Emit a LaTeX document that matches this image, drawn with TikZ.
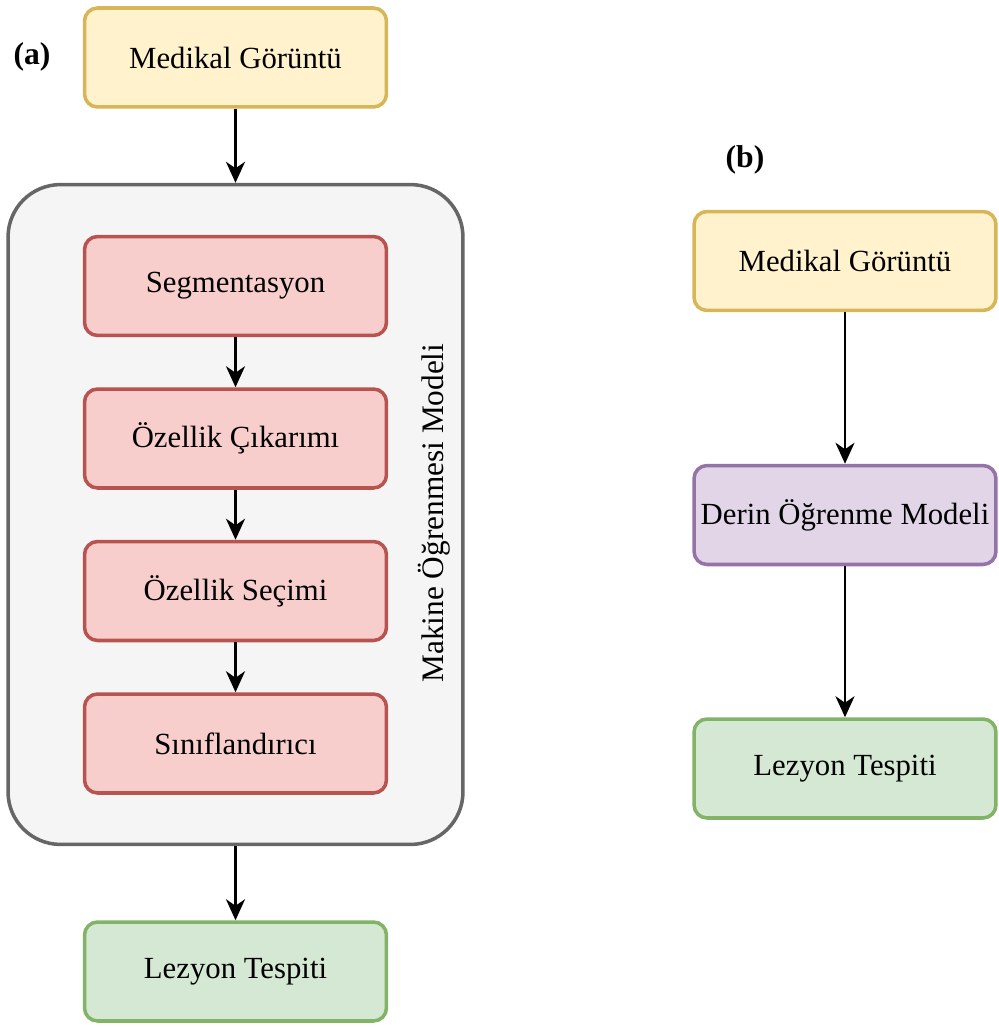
\documentclass[tikz,border=0pt]{standalone}
\usepackage{fontspec}
\setmainfont{Liberation Serif}
\usetikzlibrary{arrows.meta}
\definecolor{yelfill}{HTML}{FFF2CC}
\definecolor{yeldraw}{HTML}{D6B656}
\definecolor{redfill}{HTML}{F8CECC}
\definecolor{reddraw}{HTML}{B85450}
\definecolor{grnfill}{HTML}{D5E8D4}
\definecolor{grndraw}{HTML}{82B366}
\definecolor{purfill}{HTML}{E1D5E7}
\definecolor{purdraw}{HTML}{9673A6}
\definecolor{grayfill}{HTML}{F5F5F5}
\definecolor{graydraw}{HTML}{666666}
\tikzstyle{box} = [draw, rectangle, rounded corners=0.26cm, line width=2pt, minimum width=6.04cm, minimum height=1.98cm, font={\fontsize{17.5}{21}\selectfont}]
\tikzstyle{input} = [box, fill=yelfill, draw=yeldraw]
\tikzstyle{stage} = [box, fill=redfill, draw=reddraw]
\tikzstyle{result} = [box, fill=grnfill, draw=grndraw]
\tikzstyle{deep} = [box, fill=purfill, draw=purdraw]
\tikzstyle{frame} = [draw=graydraw, fill=grayfill, rectangle, rounded corners=1.05cm, line width=2pt, minimum width=9.1cm, minimum height=13.2cm]
\tikzstyle{tag} = [font={\fontsize{18}{21}\selectfont\bfseries}]
\tikzstyle{conn} = [->, line width=1.5pt]

\begin{document}
\begin{tikzpicture}[x=0.02cm, y=-0.02cm, >={Stealth[length=0.42cm, width=0.38cm, inset=0.13cm]}]
    \useasboundingbox (0,0) rectangle (999,1027);
    % (a)
    \node[tag](ta) at (32,57){(a)};
    \node[input](ma) at (235.5,57.5){Medikal Görüntü};
    \node[frame](ml) at (235.5,514.5){};
    \node[rotate=90, font={\fontsize{17.8}{21}\selectfont}](mlt) at (434,513){Makine Öğrenmesi Modeli};
    \node[stage](seg) at (235.5,286){Segmentasyon};
    \node[stage](cik) at (235.5,438.5){Özellik Çıkarımı};
    \node[stage](sec) at (235.5,591){Özellik Seçimi};
    \node[stage](sin) at (235.5,743.5){Sınıflandırıcı};
    \node[result](lza) at (235.5,971.5){Lezyon Tespiti};
    \draw[conn](ma)--(ml);
    \draw[conn](seg)--(cik);
    \draw[conn](cik)--(sec);
    \draw[conn](sec)--(sin);
    \draw[conn](ml)--(lza);
    % (b)
    \node[tag](tb) at (745,160){(b)};
    \node[input](mb) at (845,261){Medikal Görüntü};
    \node[deep](derin) at (845,515){Derin Öğrenme Modeli};
    \node[result](lzb) at (845,768.5){Lezyon Tespiti};
    \draw[conn](mb)--(derin);
    \draw[conn](derin)--(lzb);
  \end{tikzpicture}
\end{document}
